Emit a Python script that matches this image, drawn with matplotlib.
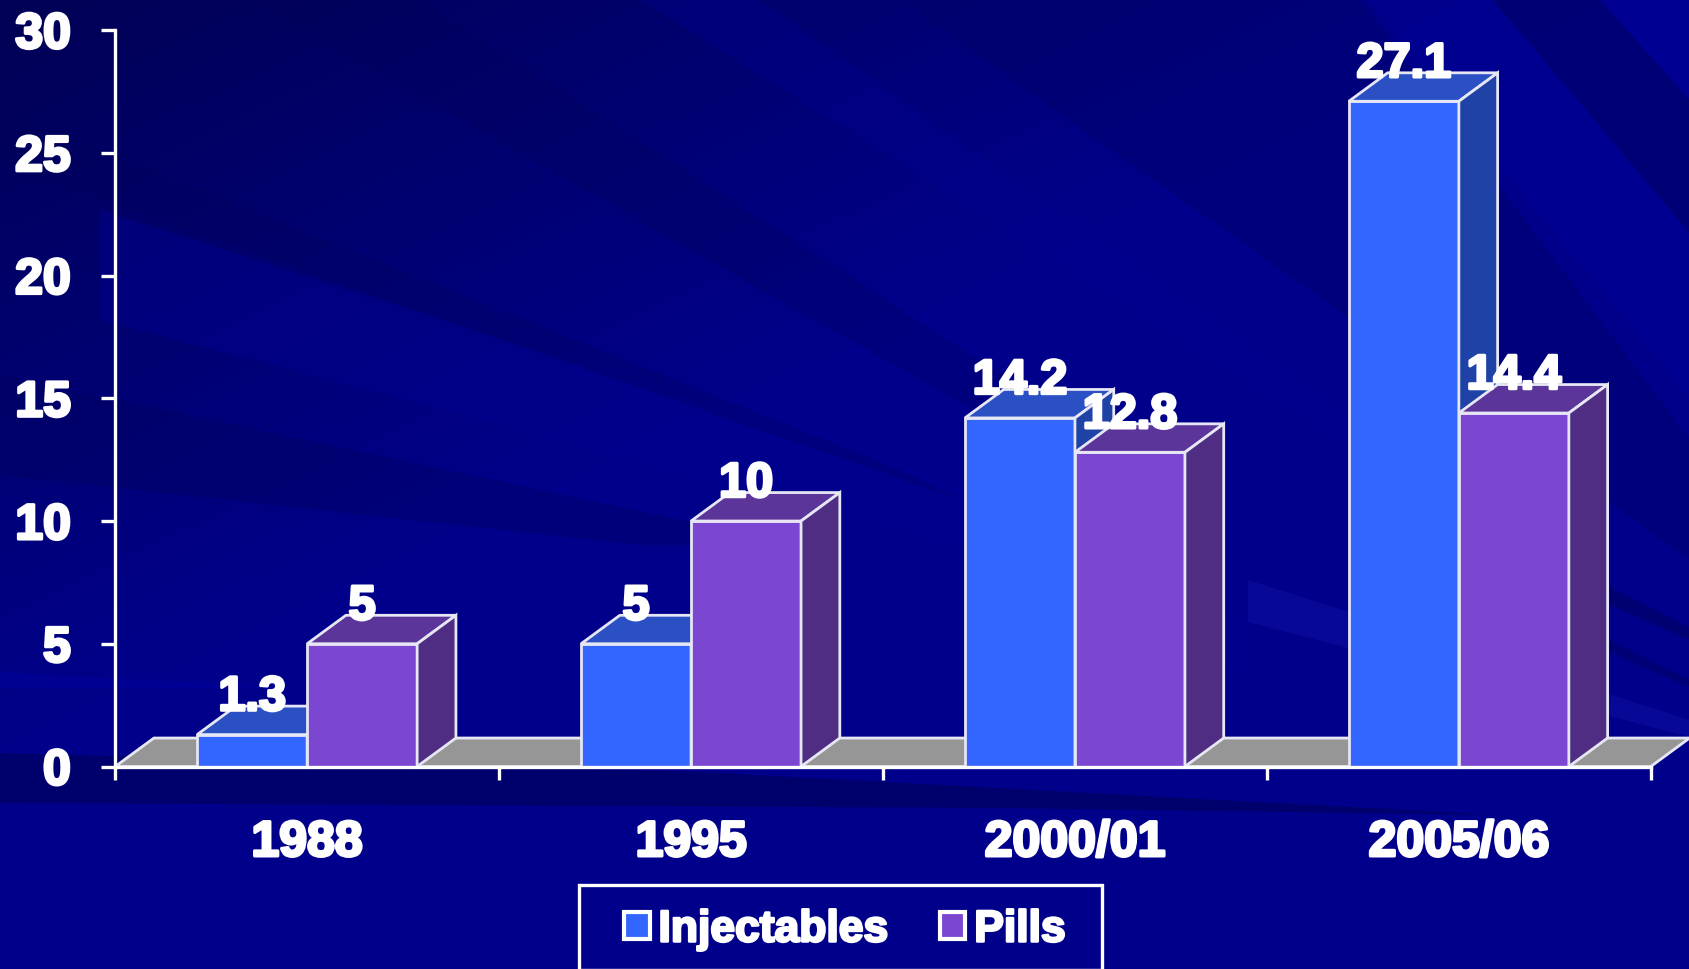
import matplotlib
matplotlib.use('Agg')
import matplotlib.pyplot as plt
import matplotlib.patheffects as pe
from matplotlib.patches import Polygon, Rectangle, Patch
from matplotlib.colors import ListedColormap
import numpy as np

categories = ['1988', '1995', '2000/01', '2005/06']
injectables = [1.3, 5, 14.2, 27.1]
pills = [5, 10, 12.8, 14.4]
inj_labels = ['1.3', '5', '14.2', '27.1']
pill_labels = ['5', '10', '12.8', '14.4']
y_ticks = [0, 5, 10, 15, 20, 25, 30]

W, H = 1690, 969
BLUE = ('#3366ff', '#2a50c4', '#1f42a6')
PURPLE = ('#7b46d0', '#5c359b', '#4f2d83')
EDGE = '#e6e6f5'

# background streaks, pixel coords of the picture, (colour, alpha, points)
streaks = [
    ('#000090', 0.45, [(100, 210), (1000, 500), (1250, 620), (1250, 680), (963, 547), (100, 320)]),
    ('#000058', 0.25, [(0, 110), (900, 470), (960, 500), (0, 165)]),
    ('#000058', 0.25, [(420, 0), (1150, 470), (1150, 510), (250, 0)]),
    ('#000058', 0.30, [(0, 375), (800, 545), (640, 545), (0, 475)]),
    ('#000090', 0.35, [(640, 0), (760, 0), (1500, 520), (1400, 480)]),
    ('#000068', 0.40, [(900, 0), (1360, 0), (1690, 440), (1690, 560)]),
    ('#000096', 0.50, [(1367, 0), (1493, 0), (1690, 235), (1690, 400)]),
    ('#000068', 0.60, [(1493, 0), (1600, 0), (1690, 100), (1690, 233)]),
    ('#000098', 0.60, [(1600, 0), (1690, 0), (1690, 100)]),
    ('#000068', 0.70, [(1610, 587), (1690, 628), (1690, 640), (1610, 605)]),
    ('#000068', 0.60, [(1610, 640), (1690, 680), (1690, 687), (1610, 653)]),
    ('#0a0a9a', 0.85, [(1248, 580), (1690, 720), (1690, 737), (1248, 622)]),
    ('#00006a', 0.90, [(0, 753), (700, 772), (1500, 815), (1000, 808), (0, 803)]),
    ('#0000a0', 0.45, [(0, 672), (300, 688), (0, 688)]),
]

def style_text(txt, w=2.2):
    txt.set_path_effects([pe.withStroke(linewidth=w, foreground='white')])
    return txt

def draw_bar(ax, x, value, width, dx, dy, colours, label):
    front, top, side = colours
    ax.bar(x, value, width=width, align='edge', color=front, edgecolor=EDGE,
           linewidth=2, zorder=3, clip_on=False)
    ax.add_patch(Polygon([(x, value), (x + dx, value + dy),
                          (x + width + dx, value + dy), (x + width, value)],
                         closed=True, fc=top, ec=EDGE, lw=2, zorder=3, clip_on=False))
    ax.add_patch(Polygon([(x + width, 0), (x + width + dx, dy),
                          (x + width + dx, value + dy), (x + width, value)],
                         closed=True, fc=side, ec=EDGE, lw=2, zorder=3, clip_on=False))
    t = ax.annotate(label, (x + width / 2, value), xytext=(0, 26.5),
                    textcoords='offset points', ha='center', va='center',
                    color='white', fontsize=35, fontweight='bold', zorder=10,
                    annotation_clip=False)
    style_text(t)

plt.rcParams['font.family'] = ['Liberation Sans', 'DejaVu Sans']

fig = plt.figure(figsize=(W / 100, H / 100), dpi=100, facecolor='#00008b')

# background: dark corner top left fading to the plain blue, then the streaks
bg = fig.add_axes([0, 0, 1, 1], zorder=0)
xx, yy = np.meshgrid(np.linspace(0, 1, 170), np.linspace(0, 1, 97))
shade = np.clip((xx + 1.2 * yy) / 0.95, 0, 1)
cmap = ListedColormap(np.column_stack([np.zeros(256), np.zeros(256),
                                       np.linspace(85, 139, 256) / 255]))
bg.imshow(shade, extent=(0, W, H, 0), aspect='auto', cmap=cmap, vmin=0, vmax=1,
          interpolation='bilinear')
bg.set_xlim(0, W)
bg.set_ylim(H, 0)
bg.axis('off')
for col, a, pts in streaks:
    bg.add_patch(Polygon(pts, closed=True, fc=col, ec='none', alpha=a))

ax = fig.add_axes([115.2 / W, 1 - 766.5 / H, 1535.6 / W, 736.4 / H], zorder=1)
ax.patch.set_alpha(0)
ax.set_xlim(0, len(categories))
ax.set_ylim(0, 30)

bar_w = 0.2865
dx = 0.101
dy = 1.16

# floor
ax.add_patch(Polygon([(0, 0), (dx, dy), (len(categories) + dx, dy), (len(categories), 0)],
                     closed=True, fc='#969696', ec=EDGE, lw=2, zorder=2, clip_on=False))

for i in range(len(categories)):
    x0 = i + 0.5 - bar_w
    draw_bar(ax, x0, injectables[i], bar_w, dx, dy, BLUE, inj_labels[i])
    draw_bar(ax, x0 + bar_w, pills[i], bar_w, dx, dy, PURPLE, pill_labels[i])

for s in ['top', 'right']:
    ax.spines[s].set_visible(False)
for s in ['left', 'bottom']:
    ax.spines[s].set_color('white')
    ax.spines[s].set_linewidth(2.4)
    ax.spines[s].set_zorder(5)

ax.set_yticks(y_ticks)
ax.set_xticks(range(len(categories) + 1))
ax.set_xticklabels([])
ax.set_xticks([i + 0.5 for i in range(len(categories))], minor=True)
ax.set_xticklabels(categories, minor=True)
ax.tick_params(axis='y', colors='white', length=10, width=2.4, pad=22, labelsize=36)
ax.tick_params(axis='x', which='major', colors='white', length=9, width=2.4)
ax.tick_params(axis='x', which='minor', colors='white', length=0, pad=38.5, labelsize=36)
for t in ax.get_yticklabels() + ax.get_xticklabels(minor=True):
    t.set_fontweight('bold')
    style_text(t)

# legend box runs down to the picture edge
fig.add_artist(Rectangle((579 / W, 1 - 970 / H), 523 / W, 85 / H, transform=fig.transFigure,
                         fc='none', ec='white', lw=2.4))
handles = [Patch(fc=BLUE[0], ec='white', lw=3, label='Injectables'),
           Patch(fc=PURPLE[0], ec='white', lw=3, label='Pills')]
leg = fig.legend(handles=handles, loc='center', bbox_to_anchor=(845 / W, 1 - 930 / H),
                 ncol=2, frameon=False, fontsize=32, handlelength=0.57, handleheight=0.57,
                 handletextpad=0.2, columnspacing=1.16)
for t in leg.get_texts():
    t.set_color('white')
    t.set_fontweight('bold')
    style_text(t, 1.8)

fig.savefig('out.png', dpi=100, facecolor=fig.get_facecolor())
